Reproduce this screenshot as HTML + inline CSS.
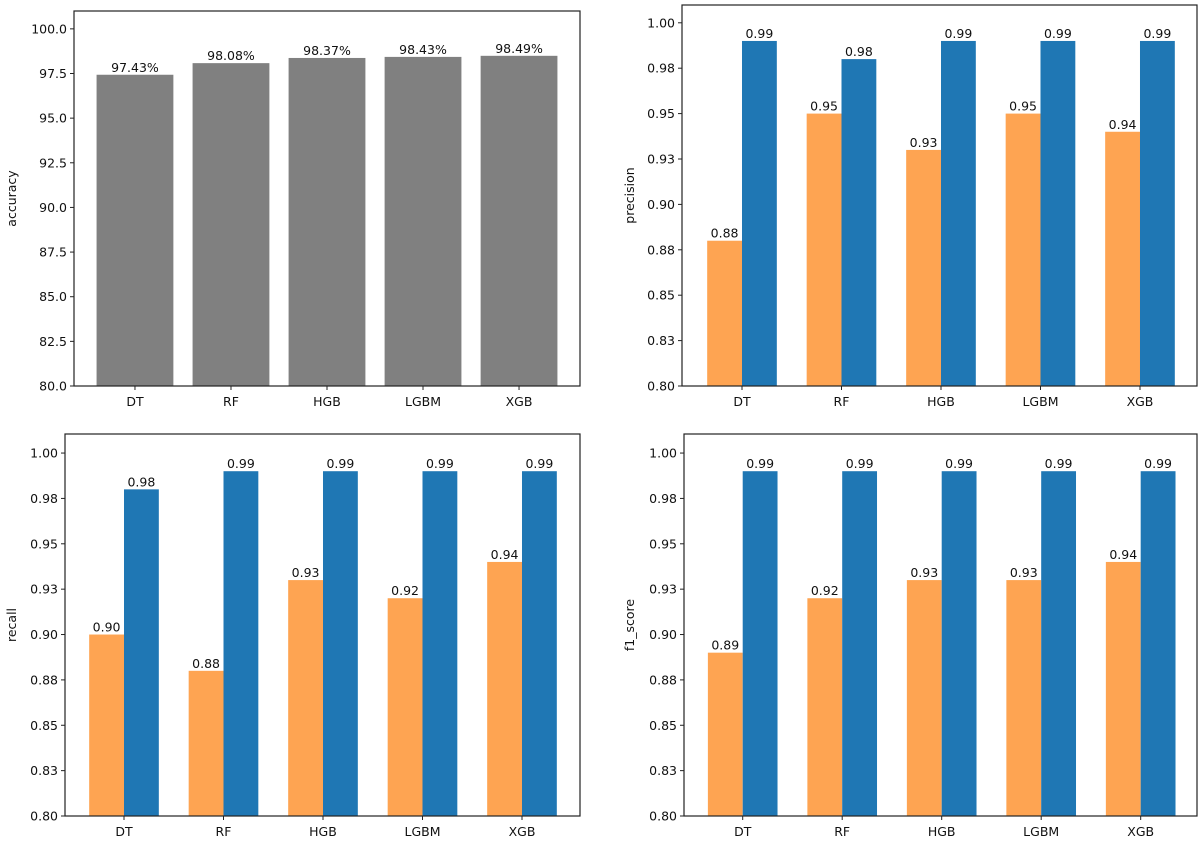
<!DOCTYPE html>
<html><head><meta charset="utf-8"><style>
html,body{margin:0;padding:0;background:#fff;}
svg{display:block;font-family:"DejaVu Sans","Liberation Sans",sans-serif;}
</style></head><body>
<svg id="fig" width="1200" height="842" viewBox="0 0 1200 842" xmlns="http://www.w3.org/2000/svg"></svg>
<script>
const categories = ["DT","RF","HGB","LGBM","XGB"];
const accuracyValues = [97.43, 98.08, 98.37, 98.43, 98.49];
const accuracyLabels = ["97.43%","98.08%","98.37%","98.43%","98.49%"];
const accuracyTicks = [80.0, 82.5, 85.0, 87.5, 90.0, 92.5, 95.0, 97.5, 100.0];
const accuracyTickLabels = ["80.0","82.5","85.0","87.5","90.0","92.5","95.0","97.5","100.0"];
const precisionOrange = [0.880, 0.950, 0.930, 0.950, 0.940];
const precisionBlue = [0.990, 0.980, 0.990, 0.990, 0.990];
const recallOrange = [0.900, 0.880, 0.930, 0.920, 0.940];
const recallBlue = [0.980, 0.990, 0.990, 0.990, 0.990];
const f1Orange = [0.890, 0.920, 0.930, 0.930, 0.940];
const f1Blue = [0.990, 0.990, 0.990, 0.990, 0.990];
const scoreTicks = [0.800, 0.825, 0.850, 0.875, 0.900, 0.925, 0.950, 0.975, 1.000];
const scoreTickLabels = ["0.80","0.83","0.85","0.88","0.90","0.93","0.95","0.98","1.00"];

const NS = "http://www.w3.org/2000/svg";
const fig = document.getElementById("fig");
function mk(tag, attrs, parent){
  const e = document.createElementNS(NS, tag);
  for (const k in attrs) e.setAttribute(k, attrs[k]);
  parent.appendChild(e); return e;
}
function fmt2(v){ return v.toFixed(2); }

function panel(cfg){
  const g = mk("g", {}, fig);
  
  
  const sx = v => cfg.L + (v - cfg.xmin) / (cfg.xmax - cfg.xmin) * (cfg.R - cfg.L);
  const sy = v => cfg.B - (v - cfg.ymin) / (cfg.ymax - cfg.ymin) * (cfg.B - cfg.T);
  // bars
  cfg.series.forEach((s, si) => {
    s.values.forEach((v, i) => {
      const x0 = sx(i + s.offset - s.width / 2), x1 = sx(i + s.offset + s.width / 2);
      const r = mk("rect", {x: x0, y: sy(v), width: x1 - x0, height: sy(cfg.ymin) - sy(v), fill: s.color}, g);
      
      
      const t = mk("text", {x: (x0 + x1) / 2, y: sy(v) - 3, "text-anchor": "middle", "font-size": "12.5", fill: "#111"}, g);
      
      
      t.textContent = s.labels ? s.labels[i] : fmt2(v);
    });
  });
  // frame
  const f = mk("rect", {x: cfg.L, y: cfg.T, width: cfg.R - cfg.L, height: cfg.B - cfg.T, fill: "none", stroke: "#222", "stroke-width": 1.2}, g);
  
  
  // y ticks
  cfg.ticks.forEach((tv, i) => {
    const y = sy(tv);
    mk("line", {x1: cfg.L - 4, x2: cfg.L, y1: y, y2: y, stroke: "#222", "stroke-width": 1}, g);
    const t = mk("text", {x: cfg.L - 7, y: y + 4.5, "text-anchor": "end", "font-size": "12.5", fill: "#111"}, g);
    
    
    t.textContent = cfg.tickLabels[i];
  });
  // x ticks
  categories.forEach((c, i) => {
    const x = sx(i);
    mk("line", {x1: x, x2: x, y1: cfg.B, y2: cfg.B + 4, stroke: "#222", "stroke-width": 1}, g);
    const t = mk("text", {x: x, y: cfg.B + 20, "text-anchor": "middle", "font-size": "12.5", fill: "#111"}, g);
    
    
    t.textContent = c;
  });
  // y title
  const yc = (cfg.T + cfg.B) / 2;
  const yt = mk("text", {x: cfg.yTitleX, y: yc, "text-anchor": "middle", "font-size": "12.5", fill: "#111", transform: `rotate(-90 ${cfg.yTitleX} ${yc})`}, g);
  
  
  yt.textContent = cfg.title;
}

const ORANGE = "#fea452", BLUE = "#1f77b4";
function grouped(key, o, b){
  return [
    {key: key + "-orange", values: o, offset: -0.175, width: 0.35, color: ORANGE},
    {key: key + "-blue", values: b, offset: 0.175, width: 0.35, color: BLUE}
  ];
}

panel({name: "accuracy-chart", L: 74, R: 580, T: 11, B: 386, xmin: -0.635, xmax: 4.635, ymin: 80, ymax: 101.0,
  ticks: accuracyTicks, tickLabels: accuracyTickLabels, title: "accuracy", yTitleX: 16,
  series: [{key: "accuracy", values: accuracyValues, labels: accuracyLabels, offset: 0, width: 0.8, color: "#808080"}]});
panel({name: "precision-chart", L: 682, R: 1197, T: 5, B: 386, xmin: -0.603, xmax: 4.573, ymin: 0.8, ymax: 1.0098,
  ticks: scoreTicks, tickLabels: scoreTickLabels, title: "precision", yTitleX: 634,
  series: grouped("precision", precisionOrange, precisionBlue)});
panel({name: "recall-chart", L: 65, R: 580, T: 434, B: 816, xmin: -0.593, xmax: 4.583, ymin: 0.8, ymax: 1.0105,
  ticks: scoreTicks, tickLabels: scoreTickLabels, title: "recall", yTitleX: 16,
  series: grouped("recall", recallOrange, recallBlue)});
panel({name: "f1-score-chart", L: 684, R: 1197, T: 434, B: 816, xmin: -0.59, xmax: 4.566, ymin: 0.8, ymax: 1.0105,
  ticks: scoreTicks, tickLabels: scoreTickLabels, title: "f1_score", yTitleX: 634,
  series: grouped("f1", f1Orange, f1Blue)});
</script>
</body></html>
